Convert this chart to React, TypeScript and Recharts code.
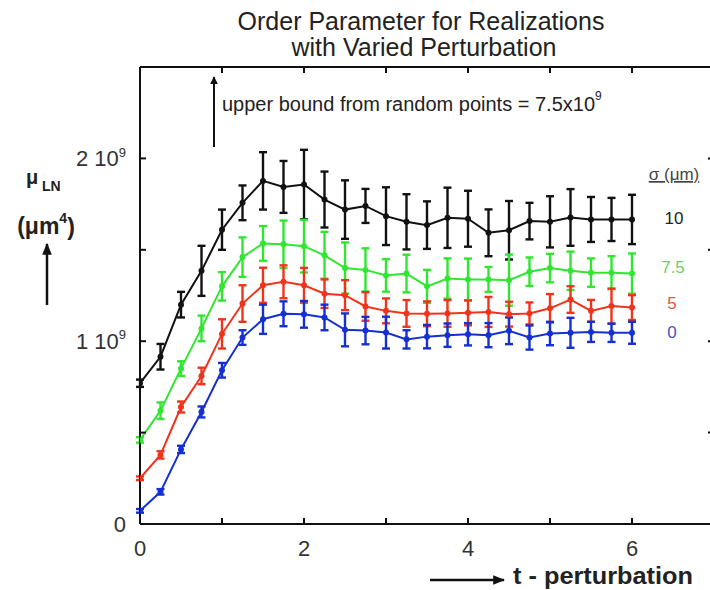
import React from 'react';
import { LineChart, Line, XAxis, YAxis, ErrorBar } from 'recharts';

const tValues = [0, 0.25, 0.5, 0.75, 1, 1.25, 1.5, 1.75, 2, 2.25, 2.5, 2.75, 3, 3.25, 3.5, 3.75, 4, 4.25, 4.5, 4.75, 5, 5.25, 5.5, 5.75, 6];

const sigma10 = [0.77, 0.915, 1.2, 1.385, 1.61, 1.757, 1.877, 1.844, 1.857, 1.775, 1.72, 1.74, 1.684, 1.653, 1.635, 1.675, 1.67, 1.593, 1.607, 1.657, 1.653, 1.677, 1.666, 1.666, 1.666];
const sigma10Err = [0.02, 0.07, 0.07, 0.137, 0.11, 0.095, 0.157, 0.142, 0.19, 0.153, 0.16, 0.093, 0.158, 0.151, 0.13, 0.165, 0.153, 0.128, 0.16, 0.1, 0.14, 0.155, 0.123, 0.118, 0.135];

const sigma75 = [0.46, 0.62, 0.85, 1.07, 1.3, 1.46, 1.535, 1.53, 1.52, 1.47, 1.4, 1.39, 1.36, 1.37, 1.3, 1.343, 1.338, 1.338, 1.334, 1.38, 1.4, 1.385, 1.375, 1.375, 1.37];
const sigma75Err = [0.015, 0.045, 0.04, 0.07, 0.078, 0.108, 0.095, 0.13, 0.144, 0.128, 0.14, 0.118, 0.089, 0.103, 0.09, 0.11, 0.114, 0.068, 0.14, 0.078, 0.078, 0.105, 0.078, 0.09, 0.11];

const sigma5 = [0.25, 0.378, 0.64, 0.81, 1.04, 1.206, 1.306, 1.325, 1.306, 1.26, 1.252, 1.19, 1.166, 1.152, 1.15, 1.152, 1.155, 1.16, 1.148, 1.152, 1.18, 1.228, 1.166, 1.192, 1.184];
const sigma5Err = [0.01, 0.02, 0.03, 0.045, 0.08, 0.1, 0.096, 0.09, 0.095, 0.078, 0.082, 0.078, 0.068, 0.073, 0.068, 0.073, 0.068, 0.082, 0.068, 0.06, 0.078, 0.073, 0.06, 0.096, 0.068];

const sigma0 = [0.072, 0.176, 0.408, 0.613, 0.841, 1.02, 1.12, 1.15, 1.147, 1.13, 1.062, 1.058, 1.047, 1.01, 1.025, 1.033, 1.038, 1.033, 1.057, 1.02, 1.042, 1.046, 1.051, 1.046, 1.046];
const sigma0Err = [0.01, 0.015, 0.02, 0.03, 0.04, 0.04, 0.08, 0.068, 0.073, 0.07, 0.09, 0.075, 0.087, 0.05, 0.064, 0.064, 0.061, 0.066, 0.073, 0.066, 0.064, 0.082, 0.055, 0.05, 0.06];

const xTicks = [0, 1, 2, 3, 4, 5, 6, 7];
const xTickLabels = ['0', '', '2', '', '4', '', '6', ''];
const yTicks = [0, 0.5, 1, 1.5, 2, 2.5];
const yTickLabels = ['0', '', '1 10', '', '2 10', ''];
const yTickExp = ['', '', '9', '', '9', ''];

const titleLines = ['Order Parameter for Realizations', 'with Varied Perturbation'];
const legendTitle = 'σ (μm)';
const legendLabels = ['10', '7.5', '5', '0'];
const annotationText = 'upper bound from random points = 7.5x10';
const annotationExp = '9';
const xLabel = 't - perturbation';

const COLORS = { s10: '#111111', s75: '#30e630', s5: '#f0341c', s0: '#1430d2' };
const LEGEND_TEXT_COLORS = ['#222222', '#6ccf6c', '#dc5a48', '#4456b8'];
const FONT = '"Liberation Sans", Arial, Helvetica, sans-serif';

const data = tValues.map((t, i) => ({
  t,
  s10: sigma10[i], s10e: sigma10Err[i],
  s75: sigma75[i], s75e: sigma75Err[i],
  s5: sigma5[i], s5e: sigma5Err[i],
  s0: sigma0[i], s0e: sigma0Err[i],
}));

const BottomTick = (props: any) => {
  const { x, y, payload } = props;
  const idx = xTicks.indexOf(payload.value);
  return (
    <g>
      <line x1={x} x2={x} y1={y} y2={y - 6} stroke="#111" strokeWidth={2} />
      <text x={x} y={y + 32} textAnchor="middle" fontSize={22} fontFamily={FONT} fill="#333">
        {xTickLabels[idx]}
      </text>
    </g>
  );
};

const TopTick = (props: any) => {
  const { x, y } = props;
  return <line x1={x} x2={x} y1={y} y2={y + 6} stroke="#111" strokeWidth={2} />;
};

const LeftTick = (props: any) => {
  const { x, y, payload } = props;
  const idx = yTicks.indexOf(payload.value);
  return (
    <g>
      <line x1={x} x2={x + 6} y1={y} y2={y} stroke="#111" strokeWidth={2} />
      <text x={x - 14} y={y} dy="0.36em" textAnchor="end" fontSize={22} fontFamily={FONT} fill="#333">
        {yTickLabels[idx]}
        {yTickExp[idx] ? (
          <tspan fontSize={13} dy="-0.75em">{yTickExp[idx]}</tspan>
        ) : null}
      </text>
    </g>
  );
};

const RightTick = (props: any) => {
  const { x, y } = props;
  return <line x1={x} x2={x - 6} y1={y} y2={y} stroke="#111" strokeWidth={2} />;
};

export default function App() {
  return (
    <div style={{ position: 'absolute', left: 0, top: 0, width: 710, height: 590, overflow: 'hidden', background: '#fff' }}>
      <LineChart
        width={724}
        height={590}
        data={data}
        margin={{ top: 66, right: 9, bottom: 65, left: 0 }}
        style={{ position: 'absolute', left: 0, top: 0 }}
      >
        <XAxis
          xAxisId="b"
          dataKey="t"
          type="number"
          domain={[0, 7]}
          ticks={xTicks}
          interval={0}
          orientation="bottom"
          height={1}
          tickSize={0}
          tickMargin={0}
          tickLine={false}
          tick={<BottomTick />}
          axisLine={{ stroke: '#111', strokeWidth: 2 }}
          allowDataOverflow
        />
        <XAxis
          xAxisId="top"
          dataKey="t"
          type="number"
          domain={[0, 7]}
          ticks={xTicks}
          interval={0}
          orientation="top"
          height={1}
          tickSize={0}
          tickMargin={0}
          tickLine={false}
          tick={<TopTick />}
          axisLine={{ stroke: '#111', strokeWidth: 2 }}
          allowDataOverflow
        />
        <YAxis
          yAxisId="l"
          type="number"
          domain={[0, 2.5]}
          ticks={yTicks}
          interval={0}
          orientation="left"
          width={140}
          tickSize={0}
          tickMargin={0}
          tickLine={false}
          tick={<LeftTick />}
          axisLine={{ stroke: '#111', strokeWidth: 2 }}
          allowDataOverflow
        />
        <YAxis
          yAxisId="r"
          type="number"
          domain={[0, 2.5]}
          ticks={yTicks}
          interval={0}
          orientation="right"
          width={1}
          tickSize={0}
          tickMargin={0}
          tickLine={false}
          tick={<RightTick />}
          axisLine={{ stroke: '#111', strokeWidth: 2 }}
          allowDataOverflow
        />
        <Line xAxisId="b" yAxisId="l" dataKey="s10" stroke={COLORS.s10} strokeWidth={2} isAnimationActive={false}
          dot={{ r: 3, fill: COLORS.s10, stroke: COLORS.s10, strokeWidth: 0 }}>
          <ErrorBar dataKey="s10e" direction="y" width={4} stroke={COLORS.s10} strokeWidth={2.4} isAnimationActive={false} />
        </Line>
        <Line xAxisId="b" yAxisId="l" dataKey="s75" stroke={COLORS.s75} strokeWidth={2} isAnimationActive={false}
          dot={{ r: 3, fill: COLORS.s75, stroke: COLORS.s75, strokeWidth: 0 }}>
          <ErrorBar dataKey="s75e" direction="y" width={4} stroke={COLORS.s75} strokeWidth={2.4} isAnimationActive={false} />
        </Line>
        <Line xAxisId="b" yAxisId="l" dataKey="s5" stroke={COLORS.s5} strokeWidth={2} isAnimationActive={false}
          dot={{ r: 3, fill: COLORS.s5, stroke: COLORS.s5, strokeWidth: 0 }}>
          <ErrorBar dataKey="s5e" direction="y" width={4} stroke={COLORS.s5} strokeWidth={2.4} isAnimationActive={false} />
        </Line>
        <Line xAxisId="b" yAxisId="l" dataKey="s0" stroke={COLORS.s0} strokeWidth={2} isAnimationActive={false}
          dot={{ r: 3, fill: COLORS.s0, stroke: COLORS.s0, strokeWidth: 0 }}>
          <ErrorBar dataKey="s0e" direction="y" width={4} stroke={COLORS.s0} strokeWidth={2.4} isAnimationActive={false} />
        </Line>
      </LineChart>
      <svg width={710} height={590} style={{ position: 'absolute', left: 0, top: 0, pointerEvents: 'none' }}>
        <defs>
          <marker id="ah" viewBox="0 0 10 10" refX="9" refY="5" markerWidth="8" markerHeight="8" markerUnits="userSpaceOnUse" orient="auto">
            <path d="M0,0 L10,5 L0,10 z" fill="#111" />
          </marker>
          <marker id="ahL" viewBox="0 0 10 10" refX="9" refY="5" markerWidth="12" markerHeight="12" markerUnits="userSpaceOnUse" orient="auto">
            <path d="M0,1 L10,5 L0,9 z" fill="#111" />
          </marker>
        </defs>
        <text x={421} y={30} textAnchor="middle" fontSize={25} fontFamily={FONT} fill="#222">{titleLines[0]}</text>
        <text x={424} y={56} textAnchor="middle" fontSize={25} fontFamily={FONT} fill="#222">{titleLines[1]}</text>

        <line x1={214} y1={147} x2={214} y2={77} stroke="#111" strokeWidth={2} markerEnd="url(#ah)" />
        <text x={222} y={111} fontSize={20} fontFamily={FONT} fill="#222">
          {annotationText}
          <tspan fontSize={12} dy="-0.9em">{annotationExp}</tspan>
        </text>

        <text x={32} y={184} textAnchor="middle" fontSize={20} fontWeight="bold" fontFamily={FONT} fill="#222">μ</text>
        <text x={42} y={191} fontSize={14} fontWeight="bold" fontFamily={FONT} fill="#222">LN</text>
        <text x={46} y={234} textAnchor="middle" fontSize={23} fontWeight="bold" fontFamily={FONT} fill="#222">
          (μm<tspan fontSize={14} dy="-0.8em">4</tspan><tspan dy="0.55em">)</tspan>
        </text>
        <line x1={47} y1={305} x2={47} y2={244} stroke="#111" strokeWidth={2.5} markerEnd="url(#ahL)" />

        <text x={674} y={180} textAnchor="middle" fontSize={17} fontFamily={FONT} fill="#444" textDecoration="underline">{legendTitle}</text>
        <text x={674} y={224} textAnchor="middle" fontSize={17} fontFamily={FONT} fill={LEGEND_TEXT_COLORS[0]}>{legendLabels[0]}</text>
        <text x={673} y={273} textAnchor="middle" fontSize={17} fontFamily={FONT} fill={LEGEND_TEXT_COLORS[1]}>{legendLabels[1]}</text>
        <text x={672} y={309} textAnchor="middle" fontSize={17} fontFamily={FONT} fill={LEGEND_TEXT_COLORS[2]}>{legendLabels[2]}</text>
        <text x={672} y={338} textAnchor="middle" fontSize={17} fontFamily={FONT} fill={LEGEND_TEXT_COLORS[3]}>{legendLabels[3]}</text>

        <line x1={430} y1={580} x2={504} y2={580} stroke="#111" strokeWidth={2.5} markerEnd="url(#ahL)" />
        <text x={513} y={584} fontSize={24} fontWeight="bold" fontFamily={FONT} fill="#222" textLength={180} lengthAdjust="spacingAndGlyphs">{xLabel}</text>
      </svg>
    </div>
  );
}
